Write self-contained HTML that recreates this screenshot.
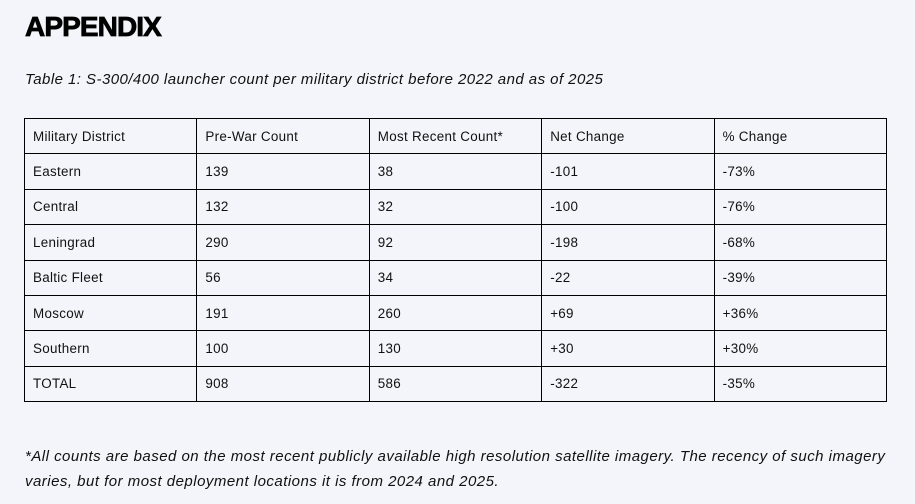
<!DOCTYPE html>
<html><head><meta charset="utf-8"><style>
body{margin:0;width:915px;height:504px;background:#f4f5fa;font-family:"Liberation Sans",sans-serif;color:#111;position:relative;overflow:hidden}
h1{position:absolute;left:25px;top:11px;margin:0;font-size:28px;font-weight:900;letter-spacing:-0.9px;color:#000;-webkit-text-stroke:0.8px #000}
.cap{position:absolute;left:25px;top:71px;font-style:italic;font-size:15px;letter-spacing:0.45px;color:#111}
table{position:absolute;left:24px;top:118px;border-collapse:collapse;width:863px;font-size:13.4px;letter-spacing:0.3px}
td{border:1px solid #000;height:35.4px;padding:0 0 0 8px;box-sizing:border-box;width:172.6px}
.foot{position:absolute;left:25px;top:444px;width:890px;font-style:italic;font-size:15px;letter-spacing:0.48px;line-height:25px;color:#111;white-space:nowrap}
</style></head><body>
<h1>APPENDIX</h1>
<div class="cap">Table 1: S-300/400 launcher count per military district before 2022 and as of 2025</div>
<table>
<tr><td>Military District</td><td>Pre-War Count</td><td>Most Recent Count*</td><td>Net Change</td><td>% Change</td></tr>
<tr><td>Eastern</td><td>139</td><td>38</td><td>-101</td><td>-73%</td></tr>
<tr><td>Central</td><td>132</td><td>32</td><td>-100</td><td>-76%</td></tr>
<tr><td>Leningrad</td><td>290</td><td>92</td><td>-198</td><td>-68%</td></tr>
<tr><td>Baltic Fleet</td><td>56</td><td>34</td><td>-22</td><td>-39%</td></tr>
<tr><td>Moscow</td><td>191</td><td>260</td><td>+69</td><td>+36%</td></tr>
<tr><td>Southern</td><td>100</td><td>130</td><td>+30</td><td>+30%</td></tr>
<tr><td>TOTAL</td><td>908</td><td>586</td><td>-322</td><td>-35%</td></tr>
</table>
<div class="foot">*All counts are based on the most recent publicly available high resolution satellite imagery. The recency of such imagery<br>varies, but for most deployment locations it is from 2024 and 2025.</div>
</body></html>
